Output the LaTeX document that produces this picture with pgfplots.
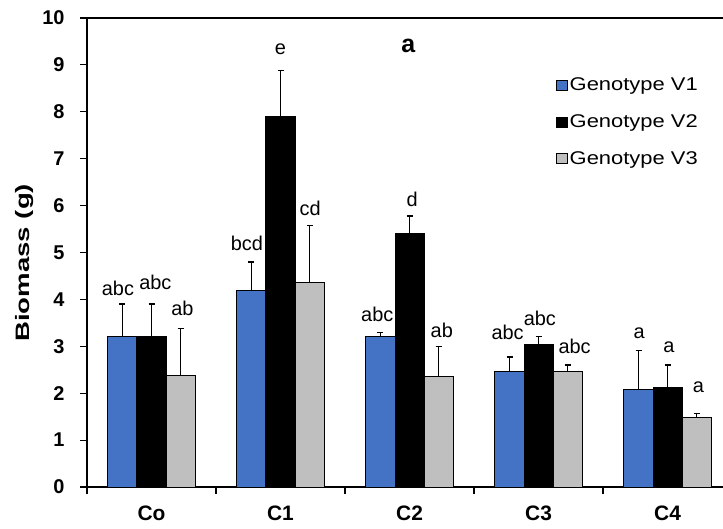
\documentclass[border=0pt]{standalone}
\usepackage{pgfplots}
\pgfplotsset{compat=1.18}
\usepackage{fontspec}
\setmainfont{Liberation Sans}
\definecolor{v1}{HTML}{4472C4}
\definecolor{v3}{HTML}{BFBFBF}
\begin{document}
\begin{tikzpicture}
\begin{axis}[name=ax,
 scale only axis, width=636bp, height=469bp,
 xmin=-0.5, xmax=4.43, ymin=0, ymax=10,
 axis x line=box, axis y line=left,
 axis line style={-, line width=1.3bp, black},
 ybar=0pt, bar width=0.225,
 /pgf/number format/assume math mode=true,
 ytick={0,1,...,10},
 yticklabel style={font=\fontsize{20}{20}\selectfont\bfseries, xshift=-12bp},
 xtick={-0.5,0.5,1.5,2.5,3.5}, xticklabels={,,,,},
 xtick pos=left, ytick pos=left,
 tick align=outside, major tick length=7bp,
 tick style={line width=1.1bp, black},
 extra x ticks={0,1,2,3,4},
 extra x tick labels={Co,C1,C2,C3,C4},
 extra x tick style={major tick length=0pt, tick style={draw=none},
   xticklabel style={font=\fontsize{21}{22}\selectfont\bfseries, yshift=-15bp}},
 every axis y label/.style={at={(axis description cs:-0.0975,0.478)}, rotate=90, anchor=center},
 ylabel={\fontsize{19.5}{20}\selectfont\bfseries\scalebox{1.42}[1]{Biomass (g)}},
 legend style={draw=none, fill=none, at={(axis description cs:0.737,0.877)}, anchor=north west,
   font=\fontsize{18.5}{19}\selectfont, row sep=18.5bp, inner sep=0pt},
 legend cell align=left,
 legend image code/.code={\draw[#1, line width=0.8bp] (0bp,-5bp) rectangle (11bp,5bp);},
 error bars/y dir=plus, error bars/y explicit,
 error bars/error bar style={line width=1.4bp, black},
 error bars/error mark options={rotate=90, mark size=3bp, line width=1.4bp, black},
 clip=false,
]
\addplot[fill=v1, draw=black, line width=1bp] coordinates {
 (0,3.2) +- (0,0.7)
 (1,4.2) +- (0,0.6)
 (2,3.2) +- (0,0.1)
 (3,2.47) +- (0,0.3)
 (4,2.08) +- (0,0.83)
};
\addplot[fill=black, draw=black, line width=1bp] coordinates {
 (0,3.2) +- (0,0.7)
 (1,7.9) +- (0,0.98)
 (2,5.4) +- (0,0.38)
 (3,3.04) +- (0,0.17)
 (4,2.13) +- (0,0.47)
};
\addplot[fill=v3, draw=black, line width=1bp] coordinates {
 (0,2.38) +- (0,1.0)
 (1,4.37) +- (0,1.2)
 (2,2.35) +- (0,0.65)
 (3,2.47) +- (0,0.13)
 (4,1.48) +- (0,0.09)
};
\legend{\scalebox{1.19}[1]{Genotype V1},\scalebox{1.19}[1]{Genotype V2},\scalebox{1.19}[1]{Genotype V3}}
\begin{scope}[every node/.style={font=\fontsize{20}{20}\selectfont, inner sep=0pt}]
\node at (axis cs:-0.26,4.24) {abc};
\node at (axis cs:0.03,4.36) {abc};
\node at (axis cs:0.24,3.81) {ab};
\node at (axis cs:0.74,5.19) {bcd};
\node at (axis cs:1.0,9.34) {e};
\node at (axis cs:1.23,5.94) {cd};
\node at (axis cs:1.75,3.68) {abc};
\node at (axis cs:2.02,6.13) {d};
\node at (axis cs:2.25,3.34) {ab};
\node at (axis cs:2.76,3.30) {abc};
\node at (axis cs:3.01,3.59) {abc};
\node at (axis cs:3.28,2.99) {abc};
\node at (axis cs:3.78,3.28) {a};
\node at (axis cs:4.01,2.98) {a};
\node at (axis cs:4.24,2.12) {a};
\end{scope}
\node[font=\fontsize{25}{25}\selectfont\bfseries, inner sep=0pt] at (axis cs:1.99,9.4) {a};
\end{axis}
\pgfresetboundingbox
\path[use as bounding box] ([xshift=-87bp,yshift=-42bp]ax.south west) rectangle ([yshift=18bp]ax.north east);
\end{tikzpicture}
\end{document}
